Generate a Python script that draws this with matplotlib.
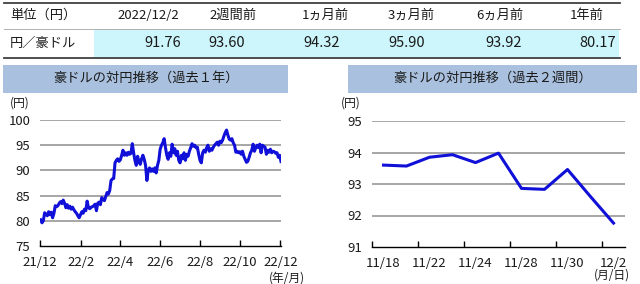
import matplotlib
matplotlib.use("Agg")
import matplotlib.pyplot as plt
from matplotlib.patches import Rectangle
from matplotlib.lines import Line2D
import numpy as np
import pandas as pd

plt.rcParams['font.family'] = ['Noto Sans CJK JP', 'DejaVu Sans']

# ---------------- data ----------------
table_header = ["単位（円）", "2022/12/2", "2週間前", "1ヵ月前", "3ヵ月前", "6ヵ月前", "1年前"]
table_row_label = "円／豪ドル"
table_values = ["91.76", "93.60", "94.32", "95.90", "93.92", "80.17"]

year_values = [
    80.2, 79.6, 80.0, 81.6, 81.3, 81.0, 81.8, 81.2, 81.7, 80.6,
    81.5, 83.0, 82.8, 83.0, 83.5, 83.8, 83.4, 84.1, 83.5, 82.6,
    83.2, 82.5, 82.9, 82.3, 82.7, 82.2, 81.8, 81.5, 81.0, 80.6,
    81.2, 81.8, 81.5, 82.3, 82.0, 83.9, 82.6, 82.4, 82.7, 82.8,
    83.0, 83.3, 82.0, 83.5, 83.7, 83.2, 84.6, 84.2, 84.0, 84.8,
    85.6, 85.3, 86.0, 88.0, 88.3, 88.4, 91.5, 92.0, 92.3, 91.8,
    92.1, 93.0, 94.0, 93.0, 93.5, 93.0, 93.6, 93.2, 93.4, 95.3,
    93.5, 92.0, 91.0, 92.8, 91.8, 91.2, 92.3, 93.0, 92.2, 91.0,
    88.0, 90.0, 90.5, 89.8, 90.3, 89.8, 90.5, 89.5, 91.0, 92.0,
    94.2, 95.0, 95.5, 96.3, 94.5, 93.0, 92.2, 93.5, 92.8, 95.2,
    93.5, 94.3, 93.0, 93.8, 92.0, 91.5, 93.0, 92.3, 93.5, 92.0,
    93.2, 92.8, 93.8, 94.5, 95.3, 94.8, 95.0, 94.5, 94.6, 93.2,
    92.0, 91.5, 93.5, 94.0, 93.6, 94.5, 95.0, 93.8, 94.3, 94.0,
    94.6, 95.0, 95.3, 95.6, 95.0, 95.8, 95.5, 96.0, 96.8, 97.5,
    98.0, 97.0, 96.2, 96.0, 96.3, 95.5, 95.0, 93.6, 93.8, 93.5,
    93.7, 93.2, 93.8, 92.8, 92.2, 91.6, 91.8, 92.6, 93.5, 94.0,
    95.2, 93.8, 94.5, 95.0, 94.5, 95.2, 93.5, 95.0, 94.8, 94.6,
    93.2, 94.0, 93.6, 94.2, 93.5, 93.8, 93.7, 93.4, 93.5, 92.6,
    93.0, 91.76,
]
year_start = "2021-12-02"
year_end = "2022-12-02"
year_ticks = ["2021-12-01", "2022-02-01", "2022-04-01", "2022-06-01",
              "2022-08-01", "2022-10-01", "2022-12-01"]
year_tick_labels = ["21/12", "22/2", "22/4", "22/6", "22/8", "22/10", "22/12"]

week_dates = ["11/18", "11/21", "11/22", "11/23", "11/24", "11/25",
              "11/28", "11/29", "11/30", "12/1", "12/2"]
week_values = [93.60, 93.57, 93.85, 93.93, 93.68, 93.98,
               92.86, 92.83, 93.46, 92.60, 91.76]
week_tick_labels = ["11/18", "11/22", "11/24", "11/28", "11/30", "12/2"]

# ---------------- figure ----------------
W, H = 640, 284
fig = plt.figure(figsize=(W / 100, H / 100), dpi=100)

def fx(px):
    return px / W

def fy(py):
    return 1 - py / H

TXT = "#1a1a1a"
fs = 9.5

# table
fig.add_artist(Rectangle((fx(94), fy(57)), fx(619) - fx(94), fy(29) - fy(57),
                         transform=fig.transFigure, facecolor="#ccf6fb",
                         edgecolor="none", zorder=0))
fig.add_artist(Line2D([fx(4), fx(620)], [fy(3), fy(3)], transform=fig.transFigure,
                      color="#404040", lw=1.3))
fig.add_artist(Line2D([fx(4), fx(620)], [fy(28.5), fy(28.5)], transform=fig.transFigure,
                      color="#b0b0b0", lw=0.7))
fig.add_artist(Line2D([fx(4), fx(620)], [fy(57.5), fy(57.5)], transform=fig.transFigure,
                      color="#404040", lw=1.3))

header_x = [10, 148, 233, 325, 411, 500, 587]
fig.text(fx(header_x[0]), fy(15.5), table_header[0], ha="left", va="center",
         fontsize=fs, color=TXT)
for x, t in zip(header_x[1:], table_header[1:]):
    fig.text(fx(x), fy(15.5), t, ha="center", va="center", fontsize=fs, color=TXT)
fig.text(fx(10), fy(43), table_row_label, ha="left", va="center", fontsize=fs, color=TXT)
value_right = [181, 245, 340, 425, 522, 616]
for x, t in zip(value_right, table_values):
    fig.text(fx(x), fy(43), t, ha="right", va="center", fontsize=10.5, color=TXT)

# title boxes
for (x0, x1, title) in [(3, 288, "豪ドルの対円推移（過去１年）"),
                        (348, 637, "豪ドルの対円推移（過去２週間）")]:
    fig.add_artist(Rectangle((fx(x0), fy(93)), fx(x1) - fx(x0), fy(65) - fy(93),
                             transform=fig.transFigure, facecolor="#a9c0de",
                             edgecolor="none"))
    fig.text(fx((x0 + x1) / 2), fy(78.5), title, ha="center", va="center",
             fontsize=fs, color=TXT)

LINE = "#1010d8"
GRID = "#a6a6a6"

def style_axes(ax):
    for s in ["left", "right", "top"]:
        ax.spines[s].set_visible(False)
    ax.spines["bottom"].set_color("#000000")
    ax.spines["bottom"].set_linewidth(1.0)
    ax.grid(axis="y", color=GRID, lw=1.4)
    ax.set_axisbelow(True)
    ax.tick_params(axis="y", length=0, labelsize=9.5, colors=TXT, pad=7)
    ax.tick_params(axis="x", direction="in", length=4, width=1.0, colors="#000000",
                   labelcolor=TXT, labelsize=9.5, pad=7)

# left chart
ax1 = fig.add_axes([fx(40), fy(246), fx(281) - fx(40), fy(120) - fy(246)])
dates = pd.date_range(year_start, year_end, periods=len(year_values))
ax1.plot(dates, year_values, color=LINE, lw=2.2, solid_joinstyle="round")
ax1.set_ylim(75, 100)
ax1.set_yticks([75, 80, 85, 90, 95, 100])
ax1.set_xlim(pd.Timestamp(year_ticks[0]), pd.Timestamp(year_ticks[-1]) + pd.Timedelta(days=1))
ax1.set_xticks([pd.Timestamp(t) for t in year_ticks])
ax1.set_xticklabels(year_tick_labels)
style_axes(ax1)
ax1.get_ygridlines()[0].set_visible(False)
fig.text(fx(10), fy(103), "(円)", ha="left", va="center", fontsize=8.5, color=TXT)
fig.text(fx(287), fy(278), "(年/月)", ha="center", va="center", fontsize=8.5, color=TXT)

# right chart
ax2 = fig.add_axes([fx(372), fy(247), fx(625) - fx(372), fy(121) - fy(247)])
xi = np.arange(len(week_values))
ax2.plot(xi, week_values, color=LINE, lw=2.2, solid_joinstyle="round")
ax2.set_ylim(91, 95)
ax2.set_yticks([91, 92, 93, 94, 95])
ax2.set_xlim(-0.5, len(week_values) - 0.5)
tick_pos = [week_dates.index(t) for t in week_tick_labels]
ax2.set_xticks([p - 0.5 for p in tick_pos])
ax2.set_xticklabels([])
ax2.set_xticks(tick_pos, minor=True)
ax2.set_xticklabels(week_tick_labels, minor=True)
style_axes(ax2)
ax2.tick_params(axis="x", which="minor", length=0, labelsize=9.5, labelcolor=TXT, pad=7)
ax2.get_ygridlines()[0].set_visible(False)
fig.text(fx(341), fy(103), "(円)", ha="left", va="center", fontsize=8.5, color=TXT)
fig.text(fx(612), fy(275), "(月/日)", ha="center", va="center", fontsize=8.5, color=TXT)

fig.savefig("out.png", dpi=100, facecolor="white")
